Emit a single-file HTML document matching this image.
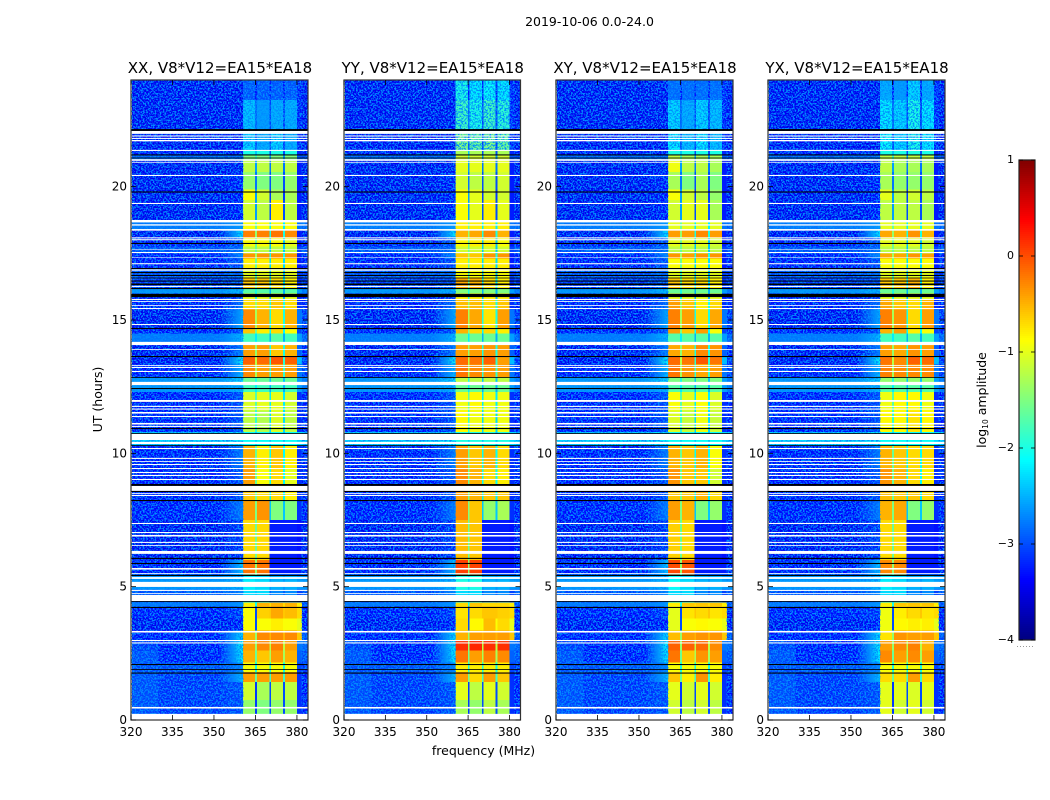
<!DOCTYPE html>
<html lang="en">
<head>
<meta charset="utf-8">
<title>2019-10-06 amplitude waterfall</title>
<style>
html,body{margin:0;padding:0;background:#fff;}
svg{display:block;font-family:"DejaVu Sans","Liberation Sans",sans-serif;fill:#000;}
</style>
</head>
<body>
<svg id="figure" width="1050" height="800" viewBox="0 0 1050 800" xmlns="http://www.w3.org/2000/svg">
  <defs id="gradients">
    <filter id="speckle" x="0" y="0" width="100%" height="100%" color-interpolation-filters="sRGB">
      <feTurbulence type="fractalNoise" baseFrequency="0.6" numOctaves="2" seed="7"/>
      <feColorMatrix type="matrix" values="0 0 0 0 0  0 0 0 0 0.55  0 0 0 0 1  6 0 0 0 -2.7"/>
    </filter>
  </defs>
  <text x="589.5" y="26" font-size="12.5" text-anchor="middle">2019-10-06 0.0-24.0</text>
  <text x="483.5" y="755" font-size="12.5" text-anchor="middle">frequency (MHz)</text>
  <text x="102" y="399.5" font-size="12.5" text-anchor="middle" transform="rotate(-90 102 399.5)">UT (hours)</text>
  <text x="986" y="400" font-size="12.5" text-anchor="middle" transform="rotate(-90 986 400)">log<tspan font-size="7.5" dy="2">10</tspan><tspan dy="-2"> amplitude</tspan></text>
  <g id="panels"></g>
  <g id="colorbar"></g>
</svg>
<script>
// Time-band upper edges in hours (last value is the lower edge of the last band)
var rowEdges = [24,23.25,22.15,21.35,21.2,21,20.55,19.9,19.5,18.75,
  18.35,18.1,17.75,17.5,17.3,16.95,16.6,16.2,16,15.75,
  15.4,14.7,14.5,14.15,13.65,13.35,12.85,12.65,12.3,11.6,
  10.8,10.27,9.45,8.85,8.25,7.5,6,5.45,4.9,4.4,
  4.25,3.8,3.35,3,2.6,2.15,1.8,1.43,0.75,0.22];
// Frequency edges in MHz
var freqEdges = [320.3,330,352,360.5,364.9,365.5,370,370.6,375,375.6,380,381.8,383.8];
// log10 amplitude of the off-band regions, one value per time band
var leftValues = [-3.45,-3.45,-3.45,-3.35,-2.95,-3.45,-3.45,-3.45,-3.45,-2.8,
  -3.45,-3.35,-3.05,-3.35,-3.35,-3.05,-3.2,-2.6,-3.35,-3.35,
  -3.45,-3.35,-2.8,-3.45,-3.45,-3.35,-2.6,-2.6,-3.35,-3.35,
  -2.3,-3.35,-3.35,-3.35,-3.35,-3.45,-3.35,-2.6,-3.05,-2.8,
  -3.35,-3.45,-3.35,-3.15,-3.05,-3.05,-3.05,-3.05,-3.05];
var bgValues = [-3.45,-3.45,-3.45,-3.35,-2.95,-3.45,-3.45,-3.45,-3.45,-2.8,
  -3.45,-3.35,-3.05,-3.35,-3.35,-3.05,-3.2,-2.6,-3.35,-3.35,
  -3.45,-3.35,-2.8,-3.45,-3.45,-3.35,-2.6,-2.6,-3.35,-3.35,
  -2.3,-3.35,-3.35,-3.35,-3.35,-3.45,-3.35,-2.6,-3.05,-2.8,
  -3.35,-3.45,-3.35,-3.35,-3.35,-3.05,-3.2,-3.2,-3.2];
var nearValues = [-3.45,-3.45,-3.45,-3.35,-2.95,-3.45,-3.35,-3.35,-3.35,-2.6,
  -2.2,-3.05,-2.9,-2.7,-3.05,-2.9,-3.05,-2.45,-3.2,-2.9,
  -2.5,-3.05,-2.45,-2.8,-2.1,-2.4,-2.3,-2.45,-3.05,-3.05,
  -2.2,-2.8,-3.05,-3.05,-2.8,-3.2,-2.35,-2.45,-2.75,-2.6,
  -3.2,-3.35,-2.2,-2.1,-2.15,-2.75,-2.4,-3.05,-3.05];
var extValues = [-3.3,-3.3,-3.3,-3.2,-2.95,-3.25,-3.25,-3.25,-3.25,-2.8,
  -3.25,-3.25,-3.05,-3.25,-3.25,-3.05,-3.15,-2.6,-3.25,-3.15,
  -2.8,-3.05,-2.6,-2.9,-2.45,-2.8,-2.6,-2.6,-3.15,-3.15,
  -2.3,-3.15,-3.15,-3.15,-3.15,-3.3,-3.25,-2.6,-3.05,-0.8,
  -0.7,-1.0,-0.6,-2.8,-2.9,-3.05,-3.15,-3.15,-3.15];
var rightValues = [-3.45,-3.45,-3.45,-3.35,-3.05,-3.45,-3.45,-3.45,-3.45,-2.95,
  -3.45,-3.35,-3.05,-3.35,-3.35,-3.2,-3.2,-2.8,-3.35,-3.35,
  -3.2,-3.35,-2.95,-3.35,-3.2,-3.2,-2.8,-2.8,-3.35,-3.35,
  -2.3,-3.35,-3.35,-3.35,-3.35,-3.45,-3.35,-2.6,-3.05,-3.05,
  -3.35,-3.35,-3.05,-2.95,-3.05,-3.2,-3.35,-3.35,-3.35];
var dividerAValues = [-3.3,-2.9,-3.0,-2.4,-1.8,-2.6,-2.8,-2.6,-2.6,-1.6,
  -1.4,-1.6,-1.6,-1.3,-1.6,-1.8,-1.6,-2.0,-2.0,-1.4,
  -1.3,-1.5,-2.2,-1.4,-1.2,-1.3,-2.0,-2.2,-1.7,-1.9,
  -2.3,-1.6,-1.6,-1.6,-1.5,-1.6,-1.4,-2.3,-2.4,-2.0,
  -3.0,-3.0,-1.4,-1.4,-1.6,-2.0,-1.6,-3.1,-3.1];
var dividerBValues = [-3.3,-3.1,-3.1,-3.0,-2.6,-2.8,-3.0,-3.1,-3.0,-2.2,
  -2.0,-2.4,-2.4,-2.0,-2.3,-2.4,-2.2,-2.5,-2.5,-2.0,
  -2.0,-2.1,-2.5,-2.0,-1.9,-1.9,-2.4,-2.5,-2.2,-2.3,
  -2.4,-2.1,-2.1,-2.2,-2.4,-3.25,-3.25,-2.6,-2.9,-0.7,
  -0.6,-0.9,-0.5,-1.2,-1.3,-2.0,-1.8,-3.0,-3.0];
// Band amplitudes 360-365, 365-370, 370-375, 375-380 MHz per time band
var bandsXX = [[-3.0,-3.0,-3.0,-3.0],[-2.4,-2.6,-2.5,-2.5],[-2.3,-2.5,-2.3,-2.5],[-2,-2,-2,-2],[-1.5,-1.5,-1.5,-1.5],
  [-1.2,-1.2,-1.2,-1.2],[-1.4,-1.5,-1.5,-1.4],[-0.9,-1.1,-1.3,-1.3],[-1.1,-1.2,-0.8,-1.2],[-0.9,-0.9,-0.9,-0.9],
  [-0.25,-0.25,-0.2,-0.3],[-0.9,-0.9,-0.9,-1.0],[-1.2,-1.2,-1.2,-1.2],[-0.35,-0.35,-0.35,-0.35],[-0.8,-0.8,-0.8,-0.8],
  [-1,-1,-1,-1],[-0.6,-0.6,-0.7,-0.8],[-1.7,-1.7,-1.7,-1.7],[-1,-1,-1,-1],[-0.7,-0.7,-0.6,-0.7],
  [-0.3,-0.5,-0.7,-0.5],[-0.6,-0.8,-0.7,-0.9],[-1.8,-1.8,-1.7,-1.8],[-0.4,-0.4,-0.6,-0.5],[-0.1,-0.15,-0.05,-0.1],
  [-0.3,-0.4,-0.4,-0.4],[-1.6,-1.6,-1.6,-1.6],[-1.8,-1.8,-1.8,-1.8],[-1.05,-1.0,-1.0,-1.1],[-1.2,-1.25,-1.05,-1.2],
  [-2.1,-2.1,-2.1,-2.1],[-0.5,-0.8,-0.6,-0.8],[-0.4,-0.9,-0.7,-1.0],[-0.6,-0.7,-0.7,-0.8],[-0.4,-0.35,-1.5,-1.5],
  [-0.7,-0.7,-3.25,-3.25],[-0.2,-0.2,-3.25,-3.25],[-2.2,-2.3,-2.5,-2.5],[-2.3,-2.3,-2.7,-2.7],[-0.8,-0.5,-0.5,-0.5],
  [-0.9,-0.65,-0.45,-0.55],[-0.9,-0.9,-0.8,-0.9],[-0.5,-0.3,-0.3,-0.3],[-0.4,-0.3,-0.25,-0.4],[-0.5,-0.6,-0.4,-0.5],
  [-0.9,-0.9,-0.9,-0.9],[-0.4,-0.4,-0.4,-0.4],[-1.1,-1.3,-1.2,-1.2],[-1.4,-1.5,-1.4,-1.4]];
var bandsYY = [[-2.0,-2.2,-2.1,-2.2],[-1.8,-2.0,-1.8,-1.9],[-1.5,-1.6,-1.5,-1.6],[-1.3,-1.3,-1.3,-1.3],[-1.1,-1.1,-1.1,-1.1],
  [-1.0,-1.0,-1.0,-1.0],[-1.1,-1.2,-1.2,-1.1],[-0.9,-1.0,-1.1,-1.1],[-0.9,-1.0,-0.8,-1.0],[-0.8,-0.8,-0.8,-0.8],
  [-0.5,-0.45,-0.3,-0.5],[-0.85,-0.8,-0.8,-0.9],[-1.1,-1.1,-1.1,-1.1],[-0.6,-0.6,-0.35,-0.35],[-0.8,-0.8,-0.8,-0.8],
  [-0.9,-0.9,-0.9,-0.9],[-0.45,-0.5,-0.7,-0.8],[-1.5,-1.5,-1.5,-1.5],[-0.8,-0.8,-0.8,-0.8],[-0.55,-0.55,-0.7,-0.6],
  [-0.25,-0.45,-0.75,-0.4],[-0.5,-0.7,-0.7,-0.8],[-1.6,-1.6,-1.6,-1.6],[-0.4,-0.4,-0.35,-0.4],[-0.15,-0.2,-0.1,-0.4],
  [-0.2,-0.3,-0.35,-0.4],[-1.2,-1.2,-1.2,-1.2],[-1.6,-1.6,-1.6,-1.6],[-0.95,-0.85,-0.95,-0.95],[-0.85,-0.95,-0.95,-0.95],
  [-2.0,-2.0,-2.0,-2.0],[-0.4,-0.6,-0.5,-0.7],[-0.3,-0.5,-0.7,-0.8],[-0.4,-0.5,-0.6,-0.6],[-0.3,-0.6,-1.4,-1.3],
  [-0.55,-0.6,-3.25,-3.25],[0.05,0.05,-3.25,-3.25],[-2.0,-2.0,-2.5,-2.5],[-2.3,-2.3,-2.7,-2.7],[-0.7,-0.6,-0.7,-0.7],
  [-0.75,-0.7,-0.6,-0.65],[-0.7,-0.85,-0.55,-0.7],[-0.5,-0.4,-0.4,-0.4],[0.15,0.2,0.15,0.15],[-0.2,-0.4,-0.25,-0.3],
  [-0.8,-0.8,-0.8,-0.8],[-0.4,-0.7,-0.4,-0.6],[-1.0,-1.2,-1.0,-1.1],[-1.3,-1.4,-1.2,-1.3]];
var bandsXY = [[-2.9,-2.9,-2.9,-2.9],[-2.3,-2.5,-2.3,-2.4],[-2.2,-2.4,-2.2,-2.4],[-2,-2,-2,-2],[-1.2,-1.3,-1.3,-1.3],
  [-0.95,-1.2,-1.2,-1.3],[-1.3,-1.5,-1.3,-1.5],[-0.9,-1.1,-1.2,-1.4],[-1.1,-1.0,-1.0,-1.3],[-1.0,-1.0,-1.0,-1.0],
  [-0.4,-0.4,-0.3,-0.4],[-1.0,-1.0,-1.0,-1.1],[-1.2,-1.2,-1.2,-1.2],[-0.35,-0.4,-0.35,-0.35],[-0.9,-0.9,-0.9,-0.9],
  [-1,-1,-1,-1],[-0.6,-0.7,-0.7,-0.8],[-1.6,-1.6,-1.6,-1.6],[-1,-1,-1,-1],[-0.4,-0.6,-0.8,-0.7],
  [-0.25,-0.4,-0.7,-0.45],[-0.4,-0.6,-0.4,-0.9],[-1.7,-1.7,-1.7,-1.7],[-0.45,-0.5,-0.3,-0.35],[-0.15,-0.2,-0.05,-0.2],
  [-0.2,-0.35,-0.45,-0.4],[-1.5,-1.5,-1.5,-1.5],[-1.7,-1.7,-1.7,-1.7],[-0.9,-1.0,-0.9,-1.05],[-1.05,-1.15,-0.95,-1.15],
  [-2.1,-2.1,-2.1,-2.1],[-0.5,-0.6,-0.5,-0.9],[-0.35,-0.6,-0.6,-1.1],[-0.6,-0.6,-0.5,-0.7],[-0.4,-0.5,-1.5,-1.4],
  [-0.65,-0.7,-3.25,-3.25],[0.0,-0.05,-3.25,-3.25],[-2.1,-2.3,-2.5,-2.5],[-2.3,-2.3,-2.7,-2.7],[-0.8,-0.6,-0.6,-0.6],
  [-1.0,-0.75,-0.7,-0.75],[-1.0,-0.9,-0.85,-0.9],[-0.55,-0.4,-0.35,-0.35],[-0.1,-0.1,-0.15,-0.3],[-0.2,-0.6,-0.35,-0.4],
  [-0.9,-0.9,-0.9,-0.9],[-0.6,-0.8,-0.35,-0.8],[-1.0,-1.1,-1.0,-1.1],[-1.1,-1.2,-1.1,-1.2]];
var bandsYX = [[-2.5,-2.6,-2.3,-2.5],[-2.2,-2.3,-2.0,-2.2],[-2.1,-2.3,-2.0,-2.2],[-2,-2,-2,-2],[-1.2,-1.2,-1.2,-1.2],
  [-1.2,-1.3,-1.3,-1.3],[-1.3,-1.4,-1.4,-1.4],[-1.0,-1.2,-1.1,-1.2],[-1.2,-1.2,-1.2,-1.3],[-1.0,-1.0,-1.0,-1.0],
  [-0.45,-0.5,-0.35,-0.5],[-1.0,-1.0,-1.0,-1.1],[-1.2,-1.2,-1.2,-1.2],[-0.45,-0.45,-0.35,-0.4],[-0.9,-0.9,-0.9,-0.9],
  [-1,-1,-1,-1],[-0.6,-0.6,-0.5,-0.8],[-1.6,-1.6,-1.6,-1.6],[-1,-1,-1,-1],[-0.45,-0.6,-0.7,-0.5],
  [-0.25,-0.35,-0.7,-0.4],[-0.5,-0.4,-0.8,-0.9],[-1.8,-1.8,-1.7,-1.8],[-0.4,-0.45,-0.35,-0.4],[-0.2,-0.3,-0.1,-0.15],
  [-0.25,-0.3,-0.3,-0.3],[-1.4,-1.4,-1.4,-1.4],[-1.7,-1.7,-1.7,-1.7],[-0.95,-0.85,-0.85,-0.95],[-0.85,-0.85,-0.75,-0.85],
  [-2.1,-2.1,-2.1,-2.1],[-0.5,-0.6,-0.7,-0.7],[-0.35,-0.5,-0.7,-0.8],[-0.55,-0.6,-0.6,-0.7],[-0.5,-0.45,-1.5,-1.4],
  [-0.7,-0.7,-3.25,-3.25],[-0.3,-0.3,-3.25,-3.25],[-2.2,-2.3,-2.5,-2.5],[-2.3,-2.3,-2.7,-2.7],[-0.8,-0.6,-0.6,-0.6],
  [-0.95,-0.8,-0.7,-0.75],[-0.95,-0.85,-0.8,-0.8],[-0.75,-0.35,-0.4,-0.4],[-0.4,-0.3,-0.25,-0.5],[-0.3,-0.4,-0.3,-0.4],
  [-0.9,-0.9,-0.9,-0.9],[-0.7,-0.7,-0.4,-0.7],[-1.0,-1.0,-1.05,-1.0],[-1.0,-1.1,-1.0,-1.1]];
var panelTitles = ["XX, V8*V12=EA15*EA18","YY, V8*V12=EA15*EA18","XY, V8*V12=EA15*EA18","YX, V8*V12=EA15*EA18"];
var panelKeys = ["xx","yy","xy","yx"];
var panelBands = [bandsXX,bandsYY,bandsXY,bandsYX];
// Flagged time ranges in hours: white = no data, black = zeroed
var whiteFlags = [[22.09,21.98],[21.92,21.88],[21.83,21.79],[21.75,21.70],[21.38,21.34],[21.03,20.97],[20.93,20.90],[20.44,20.40],[19.39,19.35],
  [18.75,18.66],[18.59,18.54],[18.41,18.35],[18.10,18.06],[18.03,17.99],[17.65,17.63],[17.55,17.51],[17.35,17.33],[17.13,17.09],[16.90,16.85],
  [16.28,16.24],[15.79,15.75],[15.71,15.68],[15.56,15.53],[15.45,15.41],[14.85,14.81],[14.18,14.06],[13.91,13.88],[13.31,13.28],[13.24,13.20],
  [13.09,13.05],[12.68,12.56],[12.00,11.93],[11.78,11.74],[11.68,11.64],[11.55,11.49],[11.40,11.36],[11.14,11.08],[11.03,10.99],[10.73,10.50],
  [10.43,10.35],[10.20,10.16],[9.83,9.79],[9.71,9.68],[9.60,9.56],[9.45,9.41],[9.30,9.26],[9.19,9.15],[9.04,9.00],[8.78,8.59],[8.51,8.48],[8.44,8.40],
  [7.39,7.35],[7.05,7.01],[6.94,6.88],[6.68,6.64],[6.56,6.53],[6.34,6.23],[5.70,5.64],[5.51,5.48],[5.36,5.29],[5.18,4.99],[4.88,4.84],[4.76,4.73],
  [4.69,4.46],[3.34,3.28],[3.00,2.96],[2.91,2.87],[0.49,0.43],[0.23,0]];
var blackFlags = [[22.16,22.09],[21.21,21.17],[21.09,21.06],[19.82,19.78],[17.89,17.85],[16.95,16.91],[16.80,16.76],[16.69,16.65],[16.59,16.56],
  [16.48,16.44],[16.37,16.31],[16.20,16.16],[15.98,15.86],[14.70,14.66],[13.65,13.61],[12.86,12.83],[12.45,12.41],[10.95,10.91],[10.76,10.73],
  [10.31,10.28],[8.85,8.78],[8.59,8.55],[8.25,8.21],[6.08,6.04],[5.89,5.85],[5.44,5.40],[4.46,4.43],[4.24,4.20],[2.10,2.06],[1.91,1.88],[1.78,1.74]];
var xTickValues = [320,335,350,365,380];
var yTickValues = [0,5,10,15,20];
var colorbarTickValues = [-4,-3,-2,-1,0,1];
var colorbarTickLabels = ["\u22124","\u22123","\u22122","\u22121","0","1"];

var NS = "http://www.w3.org/2000/svg";
var panelBoxes = [[131,308],[344,520.5],[556,733],[768,945]];
var plotTop = 80, plotBottom = 720;
var cbLeft = 1019, cbRight = 1035, cbTop = 160, cbBottom = 640;
var gradientIds = {};

function xScale(box, mhz){ return box[0] + (mhz - 320) * (box[1] - box[0]) / 64; }
function yScale(hours){ return plotBottom - hours * (plotBottom - plotTop) / 24; }
function cbScale(v){ return cbBottom - (v + 4) * (cbBottom - cbTop) / 5; }
function clamp(x){ return Math.max(0, Math.min(1, x)); }
function jet(v){
  var t = clamp((v + 4) / 5);
  var r = clamp(1.5 - Math.abs(4 * t - 3));
  var g = clamp(1.5 - Math.abs(4 * t - 2));
  var b = clamp(1.5 - Math.abs(4 * t - 1));
  return "rgb(" + Math.round(r * 255) + "," + Math.round(g * 255) + "," + Math.round(b * 255) + ")";
}
function make(tag, parent, attrs){
  var el = document.createElementNS(NS, tag);
  for (var k in attrs) el.setAttribute(k, attrs[k]);
  parent.appendChild(el);
  return el;
}
function nearGradient(v){
  var key = "near" + String(v).replace("-", "m").replace(".", "p");
  if (!gradientIds[key]){
    var defs = document.getElementById("gradients");
    var lg = make("linearGradient", defs, {id: key, x1: 0, x2: 1, y1: 0, y2: 0});
    make("stop", lg, {offset: "0", "stop-color": jet(v), "stop-opacity": 0});
    make("stop", lg, {offset: "1", "stop-color": jet(v), "stop-opacity": 1});
    gradientIds[key] = true;
  }
  return "url(#" + key + ")";
}
function rowColumnValues(bands, i){
  var b = bands[i];
  return [leftValues[i], bgValues[i], nearValues[i], b[0], dividerAValues[i], b[1],
          dividerBValues[i], b[2], dividerBValues[i], b[3], extValues[i], rightValues[i]];
}

var panelsGroup = document.getElementById("panels");
panelBands.forEach(function(bands, p){
  var box = panelBoxes[p];
  var g = make("g", panelsGroup, {});
  
  

  var background = make("rect", g, {x: box[0], y: plotTop, width: box[1] - box[0], height: plotBottom - plotTop, fill: "#fff"});
  
  

  for (var i = 0; i < bands.length; i++){
    var vals = rowColumnValues(bands, i);
    var y0 = yScale(rowEdges[i]);
    var y1 = yScale(rowEdges[i + 1]);
    for (var c = 0; c < vals.length; c++){
      var x0 = xScale(box, freqEdges[c]);
      var x1 = xScale(box, freqEdges[c + 1]);
      if (c === 2){
        var under = make("rect", g, {x: x0, y: y0, width: x1 - x0, height: y1 - y0, fill: jet(bgValues[i]), "shape-rendering": "crispEdges"});
        
        
      }
      var cell = make("rect", g, {x: x0, y: y0, width: x1 - x0, height: y1 - y0, fill: c === 2 ? nearGradient(vals[c]) : jet(vals[c]), "shape-rendering": "crispEdges"});
      
      
    }
  }

  var noiseLeft = make("rect", g, {x: xScale(box, 320.3), y: plotTop, width: xScale(box, 360.5) - xScale(box, 320.3), height: yScale(0.22) - plotTop, filter: "url(#speckle)"});
  
  
  var noiseRight = make("rect", g, {x: xScale(box, 381.8), y: plotTop, width: xScale(box, 383.8) - xScale(box, 381.8), height: yScale(0.22) - plotTop, filter: "url(#speckle)"});
  
  
  var noiseTop = make("rect", g, {x: xScale(box, 360.5), y: plotTop, width: xScale(box, 381.8) - xScale(box, 360.5), height: yScale(21.35) - plotTop, filter: "url(#speckle)"});
  
  

  whiteFlags.forEach(function(f){
    var r = make("rect", g, {x: box[0], y: yScale(f[0]), width: box[1] - box[0], height: yScale(f[1]) - yScale(f[0]), fill: "#fff"});
    
    
  });
  blackFlags.forEach(function(f){
    var r = make("rect", g, {x: box[0], y: yScale(f[0]), width: box[1] - box[0], height: yScale(f[1]) - yScale(f[0]), fill: "#000"});
    
    
  });

  var frame = make("rect", g, {x: box[0], y: plotTop, width: box[1] - box[0], height: plotBottom - plotTop, fill: "none", stroke: "#333", "stroke-width": 1.2});
  
  

  xTickValues.forEach(function(v){
    var x = xScale(box, v);
    var t1 = make("line", g, {x1: x, x2: x, y1: plotBottom, y2: plotBottom - 5, stroke: "#000", "stroke-width": 0.8});
    
    
    var t2 = make("line", g, {x1: x, x2: x, y1: plotTop, y2: plotTop + 5, stroke: "#000", "stroke-width": 0.8});
    
    
    var lab = make("text", g, {x: x, y: 736, "font-size": 12, "text-anchor": "middle"});
    lab.textContent = String(v);
    
    
  });
  yTickValues.forEach(function(v){
    var y = yScale(v);
    var t1 = make("line", g, {x1: box[0], x2: box[0] + 5, y1: y, y2: y, stroke: "#000", "stroke-width": 0.8});
    
    
    var t2 = make("line", g, {x1: box[1], x2: box[1] - 5, y1: y, y2: y, stroke: "#000", "stroke-width": 0.8});
    
    
    var lab = make("text", g, {x: box[0] - 4, y: y + 4, "font-size": 12, "text-anchor": "end"});
    lab.textContent = String(v);
    
    
  });

  var title = make("text", g, {x: (box[0] + box[1]) / 2 + 0.5, y: 73, "font-size": 15, "text-anchor": "middle"});
  title.textContent = panelTitles[p];
  
  
});

var cb = document.getElementById("colorbar");
for (var s = 0; s < 240; s++){
  var level = 1 - (s + 0.5) * 5 / 240;
  var seg = make("rect", cb, {x: cbLeft, y: cbTop + s * 2, width: cbRight - cbLeft, height: 2, fill: jet(level), "shape-rendering": "crispEdges"});
  
  
}
var cbFrame = make("rect", cb, {x: cbLeft, y: cbTop, width: cbRight - cbLeft, height: cbBottom - cbTop, fill: "none", stroke: "#222", "stroke-width": 1.2});


colorbarTickValues.forEach(function(v, i){
  var y = cbScale(v);
  var t1 = make("line", cb, {x1: cbLeft, x2: cbLeft + 4, y1: y, y2: y, stroke: "#000", "stroke-width": 0.8});
  
  
  var t2 = make("line", cb, {x1: cbRight, x2: cbRight - 4, y1: y, y2: y, stroke: "#000", "stroke-width": 0.8});
  
  
  var lab = make("text", cb, {x: cbLeft - 5, y: y + 3, "font-size": 11, "text-anchor": "end"});
  lab.textContent = colorbarTickLabels[i];
  
  
});
var dots = make("line", cb, {x1: cbLeft - 2, x2: cbRight, y1: 646.5, y2: 646.5, stroke: "#999", "stroke-width": 1, "stroke-dasharray": "1 2"});


</script>
</body>
</html>
